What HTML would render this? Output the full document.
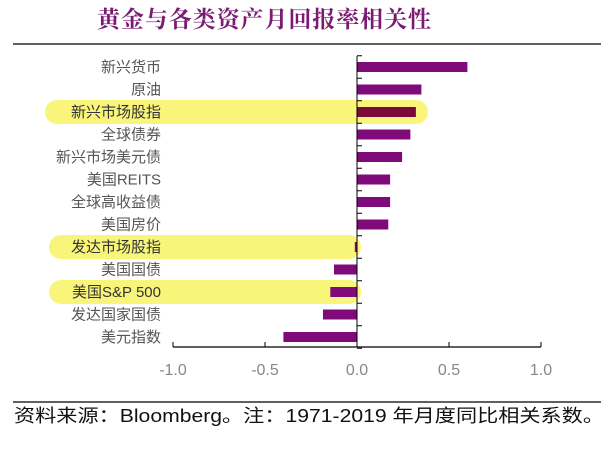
<!DOCTYPE html>
<html><head><meta charset="utf-8"><style>
body{margin:0;background:#fff;width:614px;height:453px;overflow:hidden}
svg{display:block}
</style></head><body>
<svg id="c" width="614" height="453" xmlns="http://www.w3.org/2000/svg">
<text x="264" y="27" text-anchor="middle" font-family="'Liberation Serif','Noto Serif CJK SC',serif" font-size="23" font-weight="bold" fill="#7a1a73" textLength="334">黄金与各类资产月回报率相关性</text>
<line x1="13" y1="44" x2="601" y2="44" stroke="#000" stroke-width="1.2"/>
<g id="hl"></g>
<g id="bars"></g>
<g id="axis"></g>
<line x1="13" y1="402" x2="601" y2="402" stroke="#000" stroke-width="1.2"/>
<text x="14" y="422" font-family="'Liberation Sans','Noto Sans CJK SC',sans-serif" font-size="18" fill="#111" textLength="590" lengthAdjust="spacingAndGlyphs">资料来源：Bloomberg。注：1971-2019 年月度同比相关系数。</text>
</svg>
<script>
const categories=["新兴货币","原油","新兴市场股指","全球债券","新兴市场美元债","美国REITS","全球高收益债","美国房价","发达市场股指","美国国债","美国S&P 500","发达国家国债","美元指数"];
const values=[0.60,0.35,0.32,0.29,0.245,0.18,0.18,0.17,-0.012,-0.125,-0.145,-0.185,-0.40];
const highlighted=[2,8,10];
const ticks=[-1.0,-0.5,0.0,0.5,1.0];
const NS="http://www.w3.org/2000/svg";
const x=v=>357+v*184;
const y=i=>67+i*22.5;
function mk(t,a,p){const e=document.createElementNS(NS,t);for(const k in a)e.setAttribute(k,a[k]);p.appendChild(e);return e;}
const hl=document.getElementById('hl'),bars=document.getElementById('bars'),ax=document.getElementById('axis');
highlighted.forEach(i=>{
  const right=i===2?428:Math.max(x(values[i]),x(0))+4;
  const left=i===2?45:49;
  const r=mk('rect',{x:left,y:y(i)-12,width:right-left,height:24,rx:12,fill:'#f8f57a'},hl);
  
  
});
categories.forEach((c,i)=>{
  const v=values[i];
  const b=mk('rect',{x:Math.min(x(v),x(0)),y:y(i)-5,width:Math.abs(x(v)-x(0)),height:10,fill:i===2?'#7a0a3a':'#7f0a7a'},bars);
  
  
  const t=mk('text',{x:161,y:y(i)+5,'text-anchor':'end','font-family':"'Liberation Sans','Noto Sans CJK SC',sans-serif",'font-size':15,fill:highlighted.includes(i)?'#333':'#555'},bars);
  t.textContent=c;
  
  
});
mk('line',{x1:x(0),y1:56,x2:x(0),y2:347,stroke:'#000','stroke-width':1},ax);
for(let i=0;i<=categories.length;i++){mk('line',{x1:x(0),y1:y(i)-11.25,x2:x(0)+5,y2:y(i)-11.25,stroke:'#000'},ax);}
mk('line',{x1:x(-1),y1:347,x2:x(1),y2:347,stroke:'#000','stroke-width':1.2},ax);
ticks.forEach(v=>{
  mk('line',{x1:x(v),y1:342,x2:x(v),y2:347,stroke:'#000'},ax);
  const t=mk('text',{x:x(v),y:375,'text-anchor':'middle','font-family':"'Liberation Sans',sans-serif",'font-size':16,fill:'#888'},ax);
  t.textContent=v.toFixed(1);
  
  
});
</script>
</body></html>
